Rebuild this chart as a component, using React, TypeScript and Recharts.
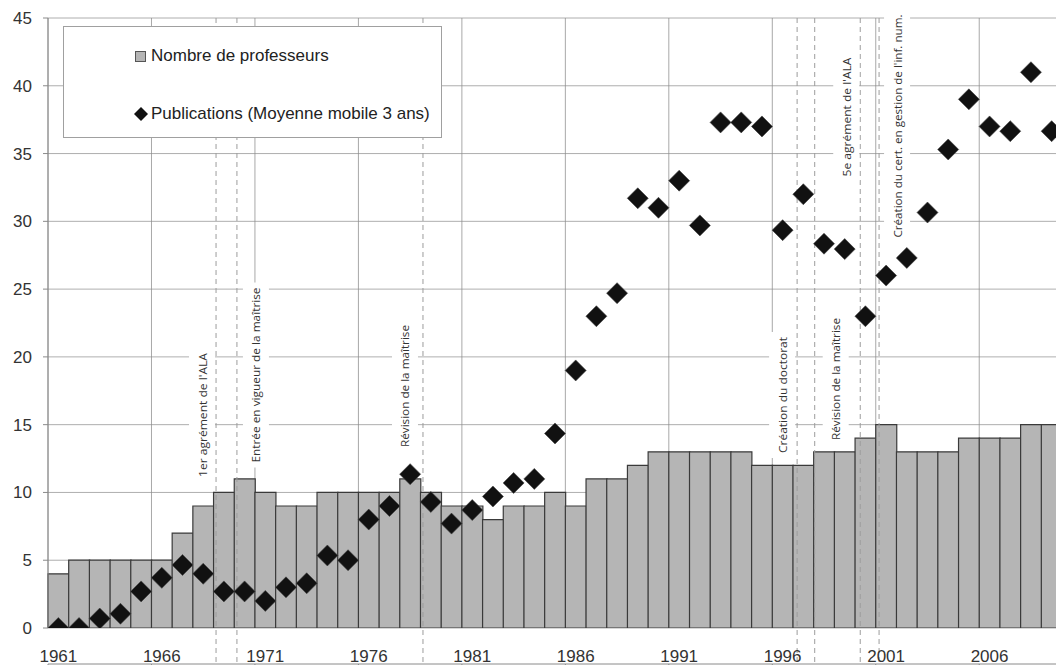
import {
  ComposedChart,
  Bar,
  Line,
  XAxis,
  YAxis,
  CartesianGrid,
  ReferenceLine,
  Legend,
} from "recharts";

const years = [
  1961, 1962, 1963, 1964, 1965, 1966, 1967, 1968, 1969, 1970,
  1971, 1972, 1973, 1974, 1975, 1976, 1977, 1978, 1979, 1980,
  1981, 1982, 1983, 1984, 1985, 1986, 1987, 1988, 1989, 1990,
  1991, 1992, 1993, 1994, 1995, 1996, 1997, 1998, 1999, 2000,
  2001, 2002, 2003, 2004, 2005, 2006, 2007, 2008, 2009,
];

const professeurs = [
  4, 5, 5, 5, 5, 5, 7, 9, 10, 11,
  10, 9, 9, 10, 10, 10, 10, 11, 10, 9,
  9, 8, 9, 9, 10, 9, 11, 11, 12, 13,
  13, 13, 13, 13, 12, 12, 12, 13, 13, 14,
  15, 13, 13, 13, 14, 14, 14, 15, 15,
];

const publications = [
  0, 0, 0.7, 1.05, 2.7, 3.7, 4.65, 4.0, 2.7, 2.7,
  2.0, 3.0, 3.3, 5.35, 5.0, 8.0, 9.0, 11.35, 9.3, 7.7,
  8.7, 9.7, 10.7, 11.0, 14.35, 19.0, 23.0, 24.7, 31.7, 31.0,
  33.0, 29.7, 37.3, 37.3, 37.0, 29.35, 32.0, 28.35, 27.95, 23.0,
  26.0, 27.3, 30.65, 35.3, 39.0, 37.0, 36.65, 41.0, 36.65,
];

const yTicks = [0, 5, 10, 15, 20, 25, 30, 35, 40, 45];
const xLabelYears = [1961, 1966, 1971, 1976, 1981, 1986, 1991, 1996, 2001, 2006];

const events = [
  { at: 1969.12, label: "1er agrément de l'ALA" },
  { at: 1970.13, label: "Entrée en vigueur de la maîtrise" },
  { at: 1979.12, label: "Révision de la maîtrise" },
  { at: 1997.2, label: "Création du doctorat" },
  { at: 1998.05, label: "Révision de la maîtrise" },
  { at: 2000.25, label: "5e agrément de l'ALA" },
  { at: 2001.16, label: "Création du cert. en gestion de l'inf. num." },
];

// where each annotation sits: offset from its line, centre below plot top, text length
const eventTextLayout = [
  { dx: -14, cy: 397, len: 124 },
  { dx: 19, cy: 357, len: 175 },
  { dx: -18, cy: 368, len: 122 },
  { dx: -15, cy: 377, len: 116 },
  { dx: 21, cy: 361, len: 122 },
  { dx: -14, cy: 99, len: 119 },
  { dx: 18, cy: 108, len: 223 },
];

const data = years.map((year, i) => ({
  year,
  prof: professeurs[i],
  pubs: publications[i],
}));

const FONT = "'Liberation Sans', Arial, sans-serif";
const BAR_FILL = "#b5b5b5";

function Diamond(props: any) {
  const { cx, cy, index } = props;
  if (cx == null || cy == null) return <g key={index} />;
  const r = 10.5;
  return (
    <polygon
      key={index}
      points={`${cx},${cy - r} ${cx + r},${cy} ${cx},${cy + r} ${cx - r},${cy}`}
      fill="#111"
      stroke="#444"
      strokeWidth={0.6}
    />
  );
}

function eventShape(i: number) {
  return (props: any) => {
    const { x1, y1, y2 } = props;
    const top = Math.min(y1, y2);
    const bottom = Math.max(y1, y2);
    const t = eventTextLayout[i];
    const tx = x1 + t.dx;
    const ty = top + t.cy;
    return (
      <g>
        <line
          x1={x1}
          x2={x1}
          y1={top}
          y2={bottom + 40}
          stroke="#9c9c9c"
          strokeDasharray="5 4"
        />
        <rect
          x={tx - 13}
          y={ty - t.len / 2 - 5}
          width={26}
          height={t.len + 10}
          fill="#fff"
        />
        <text
          x={tx}
          y={ty}
          transform={`rotate(-90 ${tx} ${ty})`}
          textAnchor="middle"
          dominantBaseline="central"
          fontSize={11.5}
          fontFamily="'Open Sans', sans-serif"
          fill="#333"
          textLength={t.len}
          lengthAdjust="spacingAndGlyphs"
        >
          {events[i].label}
        </text>
      </g>
    );
  };
}

function LegendBox(props: any) {
  const payload = props.payload || [];
  return (
    <div
      style={{
        width: 379,
        height: 112,
        boxSizing: "border-box",
        border: "1px solid #a0a0a0",
        background: "#fff",
        fontFamily: FONT,
        fontSize: 17,
        color: "#222",
        position: "relative",
      }}
    >
      {payload.map((entry: any, i: number) => (
        <div
          key={i}
          style={{
            position: "absolute",
            left: 70,
            top: i === 0 ? 18 : 76,
            height: 22,
            display: "flex",
            alignItems: "center",
            whiteSpace: "nowrap",
          }}
        >
          {entry.type === "square" ? (
            <span
              style={{
                display: "inline-block",
                width: 11,
                height: 11,
                boxSizing: "border-box",
                background: BAR_FILL,
                border: "1px solid #555",
                marginLeft: 1,
                marginRight: 5,
              }}
            />
          ) : (
            <svg width={14} height={14} style={{ marginRight: 3 }}>
              <polygon points="7,0 14,7 7,14 0,7" fill="#111" />
            </svg>
          )}
          <span>{entry.value}</span>
        </div>
      ))}
    </div>
  );
}

const NoTick = () => <g />;

export default function App() {
  return (
    <div
      style={{
        position: "absolute",
        left: 0,
        top: 0,
        width: 1056,
        height: 665,
        overflow: "hidden",
        background: "#fff",
      }}
    >
      <ComposedChart
        width={1080}
        height={665}
        data={data}
        margin={{ top: 18, right: 18, bottom: 0, left: 0 }}
        barCategoryGap={0}
        barGap={0}
      >
        <XAxis
          xAxisId="yr"
          dataKey="year"
          type="number"
          domain={[1961, 2010]}
          ticks={xLabelYears}
          interval={0}
          allowDataOverflow
          height={1}
          tick={NoTick}
          tickSize={5}
          tickLine={{ stroke: "#8a8a8a" }}
          axisLine={{ stroke: "#8a8a8a" }}
        />
        <XAxis
          xAxisId="cat"
          dataKey="year"
          ticks={xLabelYears}
          interval={0}
          height={36}
          tickLine={false}
          axisLine={false}
          tickSize={5}
          tickMargin={17}
          tick={{ fill: "#333", fontSize: 17, fontFamily: FONT }}
        />
        <YAxis
          domain={[0, 45]}
          ticks={yTicks}
          interval={0}
          width={48}
          tickSize={5}
          tickMargin={11}
          allowDataOverflow
          axisLine={{ stroke: "#8a8a8a" }}
          tickLine={{ stroke: "#8a8a8a" }}
          tick={{ fill: "#333", fontSize: 17, fontFamily: FONT }}
        />
        <CartesianGrid xAxisId="yr" horizontal={false} stroke="#a8a8a8" />
        <Bar
          xAxisId="cat"
          dataKey="prof"
          name="Nombre de professeurs"
          fill={BAR_FILL}
          stroke="#3a3a3a"
          strokeWidth={1.2}
          legendType="square"
          isAnimationActive={false}
        />
        {/* horizontal grid drawn over the bars, as in the original */}
        <CartesianGrid
          xAxisId="yr"
          vertical={false}
          stroke="#8c8c8c"
          strokeOpacity={0.7}
        />
        {events.map((ev, i) => (
          <ReferenceLine
            key={ev.label + i}
            xAxisId="yr"
            x={ev.at}
            ifOverflow="visible"
            shape={eventShape(i)}
          />
        ))}
        <Line
          xAxisId="cat"
          dataKey="pubs"
          name="Publications (Moyenne mobile 3 ans)"
          stroke="none"
          dot={Diamond}
          activeDot={false}
          legendType="diamond"
          isAnimationActive={false}
        />
        <Legend
          content={LegendBox}
          layout="horizontal"
          align="center"
          verticalAlign="middle"
          wrapperStyle={{ left: 63, top: 26, width: 379, height: 112 }}
        />
      </ComposedChart>
    </div>
  );
}
